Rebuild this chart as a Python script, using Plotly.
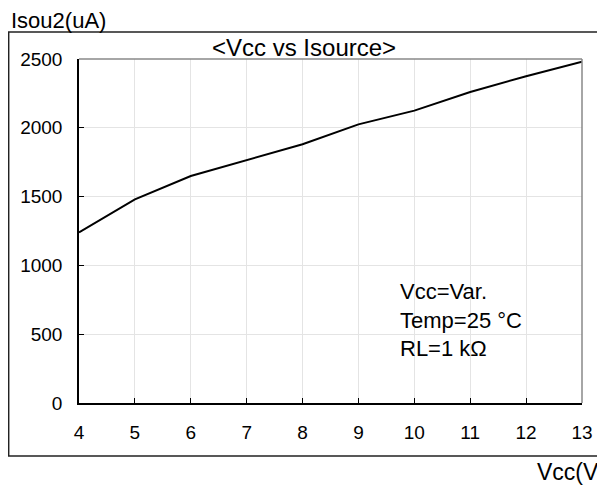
import plotly.graph_objects as go

vcc = [4, 5, 6, 7, 8, 9, 10, 11, 12, 13]
isource = [1240, 1480, 1650, 1765, 1880, 2025, 2125, 2260, 2375, 2480]
x_ticks = [4, 5, 6, 7, 8, 9, 10, 11, 12, 13]
y_ticks = [0, 500, 1000, 1500, 2000, 2500]

FONT = "Liberation Sans, Arial, sans-serif"

fig = go.Figure()
fig.add_trace(go.Scatter(x=vcc, y=isource, mode="lines",
                         line=dict(color="black", width=2), showlegend=False,
                         cliponaxis=False))

# page has an 8px body margin, so the figure is sized/offset to compensate
fig.update_layout(
    width=597, height=484,
    margin=dict(l=71, r=18, t=51, b=89),
    paper_bgcolor="white", plot_bgcolor="white",
    font=dict(family=FONT, color="black"),
    xaxis=dict(range=[4, 13], tickvals=x_ticks, ticks="inside", ticklen=5,
               tickcolor="black", showline=True, linecolor="black", linewidth=1.5,
               showgrid=True, gridcolor="#e4e4e4", gridwidth=1, zeroline=False,
               tickfont=dict(size=19, family=FONT), ticklabelstandoff=11),
    yaxis=dict(range=[0, 2500], tickvals=y_ticks, ticks="inside", ticklen=5,
               tickcolor="black", showline=True, linecolor="black", linewidth=1.5,
               showgrid=True, gridcolor="#e4e4e4", gridwidth=1, zeroline=False,
               tickfont=dict(size=19, family=FONT), ticklabelstandoff=11),
)

# top / right plot border (gray)
fig.add_shape(type="line", xref="paper", yref="paper", x0=0, x1=1, y0=1, y1=1,
              line=dict(color="#888888", width=1.5))
fig.add_shape(type="line", xref="paper", yref="paper", x0=1, x1=1, y0=0, y1=1,
              line=dict(color="#888888", width=1.5))
# outer frame
fig.add_shape(type="rect", xref="paper", yref="paper",
              x0=-0.1398, x1=1.06, y0=-0.1541, y1=1.0785,
              line=dict(color="#222222", width=1.5), fillcolor="rgba(0,0,0,0)")

fig.add_annotation(text="Isou2(uA)", xref="paper", yref="paper",
                   x=-0.1398, y=1.112, xanchor="left", yanchor="middle",
                   showarrow=False, font=dict(size=22, family=FONT))
fig.add_annotation(text="Vcc(V)", xref="paper", yref="paper",
                   x=0.9075, y=-0.2006, xanchor="left", yanchor="middle",
                   showarrow=False, font=dict(size=23, family=FONT))
fig.add_annotation(text="&lt;Vcc vs Isource&gt;", xref="paper", yref="paper",
                   x=0.447, y=1.032, xanchor="center", yanchor="middle",
                   showarrow=False, font=dict(size=24, family=FONT))
fig.add_annotation(text="Vcc=Var.<br>Temp=25 °C<br>RL=1 kΩ", xref="paper", yref="paper",
                   x=(401 - 79) / 508, y=(403 - 319.5) / 344, xanchor="left", yanchor="middle",
                   align="left", showarrow=False, font=dict(size=22, family=FONT))

fig.write_html("out.html")
